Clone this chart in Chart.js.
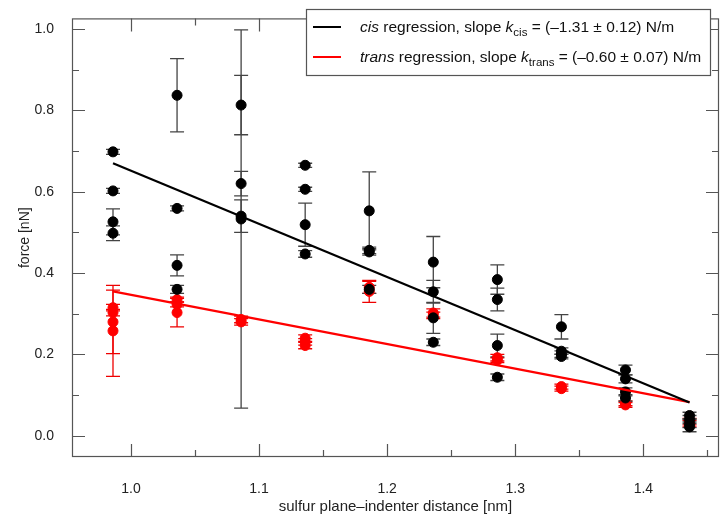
<!DOCTYPE html>
<html>
<head>
<meta charset="utf-8">
<script src="https://cdn.jsdelivr.net/npm/chart.js@4/dist/chart.umd.min.js"></script>
<style>
html,body{margin:0;padding:0;background:#fff;}
#wrap{width:725px;height:523px;}
</style>
</head>
<body>
<div id="wrap"><canvas id="c" width="725" height="523"></canvas></div>
<script>
// ---- data ----
const cisX = [0.986,0.986,0.986,0.986, 1.036,1.036,1.036,1.036, 1.086,1.086,1.086,1.086, 1.136,1.136,1.136,1.136, 1.186,1.186,1.186,1.186, 1.236,1.236,1.236,1.236, 1.286,1.286,1.286,1.286, 1.336,1.336,1.336,1.336, 1.386,1.386,1.386,1.386, 1.436,1.436,1.436,1.436];
const cisY = [0.698,0.602,0.526,0.498, 0.837,0.559,0.419,0.360, 0.813,0.620,0.540,0.533, 0.665,0.606,0.519,0.447, 0.553,0.456,0.452,0.360, 0.427,0.354,0.290,0.230, 0.384,0.335,0.222,0.144, 0.268,0.208,0.201,0.195, 0.162,0.140,0.108,0.093, 0.050,0.040,0.030,0.022];
const cisErr = [0.006,0.006,0.032,0.018, 0.090,0.006,0.026,0.010, 0.073,0.030,0.040,0.465, 0.005,0.005,0.053,0.008, 0.096,0.008,0.008,0.010, 0.063,0.028,0.038,0.008, 0.036,0.028,0.028,0.008, 0.030,0.008,0.008,0.006, 0.012,0.010,0.010,0.008, 0.008,0.010,0.010,0.012];

const transX = [0.986,0.986,0.986,0.986, 1.036,1.036,1.036, 1.086,1.086, 1.136,1.136,1.136, 1.186,1.186, 1.236,1.236, 1.286,1.286, 1.336,1.336, 1.386,1.386, 1.436,1.436];
const transY = [0.315,0.303,0.280,0.258, 0.335,0.323,0.303, 0.286,0.280, 0.240,0.231,0.222, 0.365,0.355, 0.302,0.296, 0.192,0.186, 0.121,0.116, 0.080,0.076, 0.035,0.030];
const transErr = [0.008,0.008,0.078,0.112, 0.006,0.006,0.035, 0.008,0.008, 0.008,0.008,0.008, 0.015,0.027, 0.010,0.008, 0.008,0.006, 0.006,0.006, 0.006,0.006, 0.008,0.008];

const fitX = [0.986, 1.436];
const cisFitY = [0.670, 0.082];
const transFitY = [0.355, 0.083];

const xTickStep = 0.05;
const yTickStep = 0.1;
const xLabelEvery = 0.1;
const yLabelEvery = 0.2;

const xTitle = 'sulfur plane\u2013indenter distance [nm]';
const yTitle = 'force [nN]';
const legendRows = [
  {color:'#000000', parts:[{t:'cis',s:'i'},{t:' regression, slope '},{t:'k',s:'i'},{t:'cis',s:'sub'},{t:' = (\u20131.31 \u00b1 0.12) N/m'}]},
  {color:'#ff0000', parts:[{t:'trans',s:'i'},{t:' regression, slope '},{t:'k',s:'i'},{t:'trans',s:'sub'},{t:' = (\u20130.60 \u00b1 0.07) N/m'}]}
];

const FONT = '"Liberation Sans", Arial, Helvetica, sans-serif';
const toPts = (xs, ys) => xs.map((x,i)=>({x:x, y:ys[i]}));
const isMult = (v, m) => Math.abs(v/m - Math.round(v/m)) < 1e-6;

// error bars
const errorBars = {
  id:'errorBars',
  beforeDatasetsDraw(chart){
    const {ctx, scales:{x, y}} = chart;
    const sets = [[transX, transY, transErr, '#ee0000'], [cisX, cisY, cisErr, '#444444']];
    ctx.save();
    ctx.lineWidth = 1.3;
    for (const [xs, ys, es, col] of sets){
      ctx.strokeStyle = col;
      for (let i=0;i<xs.length;i++){
        const px = x.getPixelForValue(xs[i]);
        const p1 = y.getPixelForValue(ys[i]+es[i]);
        const p2 = y.getPixelForValue(ys[i]-es[i]);
        ctx.beginPath();
        ctx.moveTo(px, p1); ctx.lineTo(px, p2);
        ctx.moveTo(px-7, p1); ctx.lineTo(px+7, p1);
        ctx.moveTo(px-7, p2); ctx.lineTo(px+7, p2);
        ctx.stroke();
      }
    }
    ctx.restore();
  }
};

// frame + inward ticks
const frame = {
  id:'frame',
  afterDraw(chart){
    const {ctx, chartArea:a, scales:{x, y}} = chart;
    ctx.save();
    ctx.strokeStyle = '#555555';
    ctx.lineWidth = 1.2;
    ctx.strokeRect(a.left+0.5, a.top+0.5, a.right-a.left-1, a.bottom-a.top-1);
    ctx.beginPath();
    for (const t of x.ticks){
      const px = Math.round(x.getPixelForValue(t.value))+0.5;
      const len = isMult(t.value, xLabelEvery) ? 13 : 7;
      ctx.moveTo(px, a.bottom); ctx.lineTo(px, a.bottom-len);
      ctx.moveTo(px, a.top); ctx.lineTo(px, a.top+len);
    }
    for (const t of y.ticks){
      const py = Math.round(y.getPixelForValue(t.value))+0.5;
      const len = isMult(t.value, yLabelEvery) ? 13 : 7;
      ctx.moveTo(a.left, py); ctx.lineTo(a.left+len, py);
      ctx.moveTo(a.right, py); ctx.lineTo(a.right-len, py);
    }
    ctx.stroke();
    ctx.restore();
  }
};

// custom legend with mixed styles
const legendBox = {
  id:'legendBox',
  afterDraw(chart){
    const ctx = chart.ctx;
    const bx = 306.5, by = 9.5, bw = 404, bh = 66;
    ctx.save();
    ctx.fillStyle = '#ffffff';
    ctx.fillRect(bx, by, bw, bh);
    ctx.strokeStyle = '#555555';
    ctx.lineWidth = 1.2;
    ctx.strokeRect(bx, by, bw, bh);
    const rowY = [27, 57];
    legendRows.forEach((row, r) => {
      const yy = rowY[r];
      ctx.strokeStyle = row.color;
      ctx.lineWidth = 2;
      ctx.beginPath(); ctx.moveTo(313, yy); ctx.lineTo(341, yy); ctx.stroke();
      let cx = 360;
      ctx.fillStyle = '#111111';
      ctx.textBaseline = 'alphabetic';
      for (const p of row.parts){
        let f, dy = 0;
        if (p.s === 'i') f = 'italic 15.5px ' + FONT;
        else if (p.s === 'sub') { f = '11.5px ' + FONT; dy = 4; }
        else f = '15.5px ' + FONT;
        ctx.font = f;
        ctx.fillText(p.t, cx, yy + 5 + dy);
        cx += ctx.measureText(p.t).width;
      }
    });
    ctx.restore();
  }
};

const chart = new Chart(document.getElementById('c'), {
  type:'scatter',
  data:{
    datasets:[
      {label:'cis', data:toPts(cisX, cisY), backgroundColor:'#000000', borderColor:'#000000', pointRadius:5, pointHoverRadius:5, order:1},
      {label:'trans', data:toPts(transX, transY), backgroundColor:'#ff0000', borderColor:'#ff0000', pointRadius:5, pointHoverRadius:5, order:2},
      {label:'cis fit', type:'line', data:toPts(fitX, cisFitY), borderColor:'#000000', borderWidth:2.2, pointRadius:0, fill:false, order:0},
      {label:'trans fit', type:'line', data:toPts(fitX, transFitY), borderColor:'#ff0000', borderWidth:2.2, pointRadius:0, fill:false, order:0}
    ]
  },
  options:{
    responsive:false,
    animation:false,
    devicePixelRatio:1,
    layout:{padding:{top:1, right:3, left:0, bottom:0}},
    plugins:{legend:{display:false}, tooltip:{enabled:false}},
    scales:{
      x:{
        type:'linear', min:0.954, max:1.459,
        grid:{display:false}, border:{display:false},
        afterFit(s){ s.height = 66; },
        ticks:{stepSize:xTickStep, includeBounds:false, autoSkip:false, maxRotation:0, padding:16,
          color:'#222', font:{family:FONT, size:14},
          callback:(v)=> isMult(v, xLabelEvery) ? v.toFixed(1) : ''},
        title:{display:true, text:xTitle, color:'#222', font:{family:FONT, size:15}, padding:{top:0, bottom:7}}
      },
      y:{
        type:'linear', min:-0.052, max:1.026,
        grid:{display:false}, border:{display:false},
        afterFit(s){ s.width = 72; },
        ticks:{stepSize:yTickStep, includeBounds:false, autoSkip:false, padding:10,
          color:'#222', font:{family:FONT, size:14},
          callback:(v)=> isMult(v, yLabelEvery) ? v.toFixed(1) : ''},
        title:{display:true, text:yTitle, color:'#222', font:{family:FONT, size:14}, padding:{top:17, bottom:0}}
      }
    }
  },
  plugins:[errorBars, frame, legendBox]
});
</script>
</body>
</html>
